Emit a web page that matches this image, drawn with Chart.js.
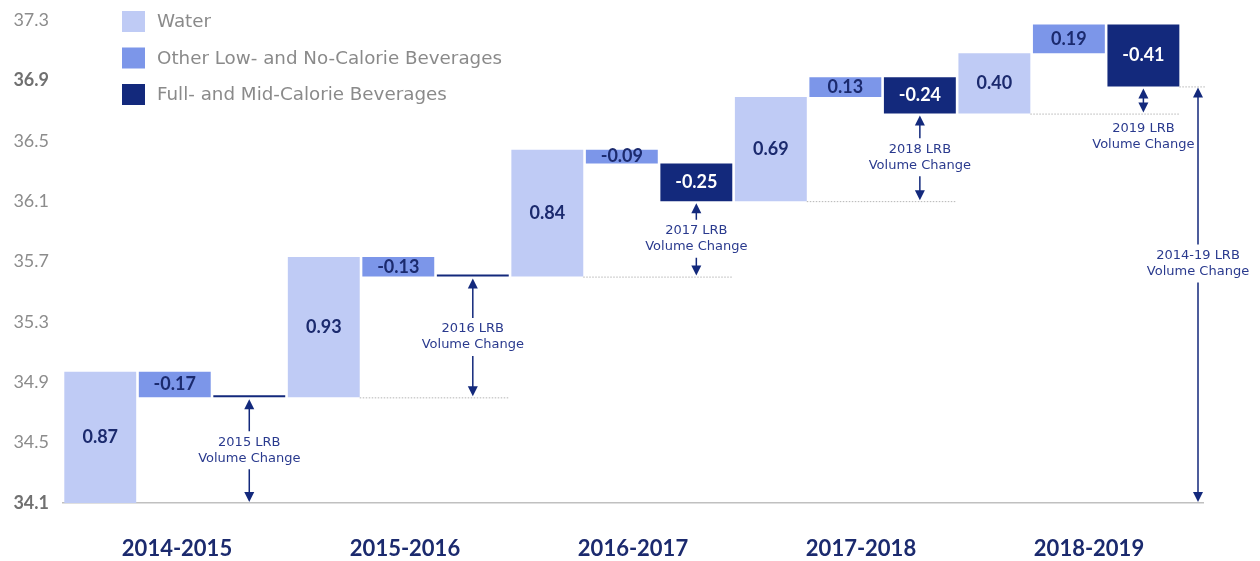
<!DOCTYPE html>
<html>
<head>
<meta charset="utf-8">
<script src="https://cdn.jsdelivr.net/npm/chart.js@4/dist/chart.umd.min.js"></script>
<style>
  html, body { margin: 0; padding: 0; background: #fff; }
  #wrap { width: 1260px; height: 561px; position: relative; }
</style>
</head>
<body>
<div id="wrap"><canvas id="waterfall"></canvas></div>
<script>
// Daten
const groups = ['2014-2015', '2015-2016', '2016-2017', '2017-2018', '2018-2019'];
const seriesNames = ['Water', 'Other Low- and No-Calorie Beverages', 'Full- and Mid-Calorie Beverages'];
const water = [0.87, 0.93, 0.84, 0.69, 0.40];
const otherLow = [-0.17, -0.13, -0.09, 0.13, 0.19];
const fullMid = [0, 0, -0.25, -0.24, -0.41];
const startValue = 34.1;
const yTicks = [34.1, 34.5, 34.9, 35.3, 35.7, 36.1, 36.5, 36.9, 37.3];
const boldTicks = [34.1, 36.9];
const noteYears = ['2015', '2016', '2017', '2018', '2019'];
const totalNote = '2014-19 LRB';

const colors = ['#bfcbf5', '#7c96e9', '#13297c'];
const NAVY = '#13297c';

// Wasserfall-Stufen aufbauen
const series = [water, otherLow, fullMid];
const floats = [[], [], []];
const groupStart = [], groupEnd = [];
let level = startValue;
groups.forEach((g, i) => {
  groupStart.push(level);
  series.forEach((s, k) => {
    floats[k].push({ x: i * 3 + k + 0.5, y: [level, level + s[i]] });
    level += s[i];
  });
  groupEnd.push(level);
});

const isBold = ctx => !!(ctx && ctx.tick && boldTicks.includes(ctx.tick.value));

function arrowHead(ctx, x, tip, dir) {
  ctx.beginPath();
  ctx.moveTo(x, tip);
  ctx.lineTo(x - 5, tip - dir * 10);
  ctx.lineTo(x + 5, tip - dir * 10);
  ctx.closePath();
  ctx.fill();
}

function vArrow(ctx, x, yTop, yBot, lines, textY) {
  ctx.save();
  ctx.strokeStyle = NAVY;
  ctx.fillStyle = NAVY;
  ctx.lineWidth = 1.5;
  const inside = textY > yTop && textY < yBot;
  ctx.beginPath();
  if (inside) {
    ctx.moveTo(x, yTop + 8); ctx.lineTo(x, textY - 19);
    ctx.moveTo(x, textY + 19); ctx.lineTo(x, yBot - 8);
  } else {
    ctx.moveTo(x, yTop + 8); ctx.lineTo(x, yBot - 8);
  }
  ctx.stroke();
  arrowHead(ctx, x, yTop, -1);
  arrowHead(ctx, x, yBot, 1);
  ctx.fillStyle = '#2a3a8e';
  ctx.font = '13px "DejaVu Sans"';
  ctx.textAlign = 'center';
  ctx.textBaseline = 'middle';
  ctx.fillText(lines[0], x, textY - 8);
  ctx.fillText(lines[1], x, textY + 8);
  ctx.restore();
}

function dotted(ctx, x1, x2, y) {
  ctx.save();
  ctx.strokeStyle = '#b5b5b5';
  ctx.lineWidth = 1;
  ctx.setLineDash([1.5, 1.5]);
  ctx.beginPath();
  ctx.moveTo(x1, y + 0.5);
  ctx.lineTo(x2, y + 0.5);
  ctx.stroke();
  ctx.restore();
}

const annotations = {
  id: 'annotations',
  afterDatasetsDraw(chart) {
    const { ctx, scales: { y }, chartArea } = chart;
    const metas = [0, 1, 2].map(k => chart.getDatasetMeta(k));

    // Werte in den Balken
    ctx.save();
    ctx.font = 'bold 18px Lato';
    ctx.textAlign = 'center';
    ctx.textBaseline = 'middle';
    metas.forEach((meta, k) => {
      meta.data.forEach((bar, i) => {
        const v = series[k][i];
        if (!v) return;
        ctx.fillStyle = k === 2 ? '#ffffff' : '#1b2a6e';
        ctx.fillText(v.toFixed(2), bar.x, (bar.y + bar.base) / 2);
      });
    });
    ctx.restore();

    // Hilfslinien und Pfeile je Gruppe
    groups.forEach((g, i) => {
      const wBar = metas[0].data[i];
      const fBar = metas[2].data[i];
      const ys = y.getPixelForValue(groupStart[i]);
      const ye = y.getPixelForValue(groupEnd[i]);
      if (i > 0) dotted(ctx, wBar.x + wBar.width / 2, fBar.x + fBar.width / 2, ys);
      const span = ys - ye;
      const textY = span > 60 ? (ys + ye) / 2 : ys + 23;
      vArrow(ctx, fBar.x, ye + 2, ys - 1, [noteYears[i] + ' LRB', 'Volume Change'], textY);
    });

    // Gesamtveränderung
    const last = metas[2].data[groups.length - 1];
    const yFinal = y.getPixelForValue(groupEnd[groups.length - 1]);
    dotted(ctx, last.x + last.width / 2, chartArea.right + 2, yFinal);
    const xT = chartArea.right - 5;
    const top = yFinal + 1, bot = chartArea.bottom - 1;
    vArrow(ctx, xT, top, bot, [totalNote, 'Volume Change'], top + 0.425 * (bot - top));
  },
  afterDraw(chart) {
    // Legende oben links
    const { ctx } = chart;
    ctx.save();
    ctx.font = '18.3px "DejaVu Sans"';
    ctx.textBaseline = 'middle';
    ctx.textAlign = 'left';
    seriesNames.forEach((name, k) => {
      const cy = 21.5 + k * 36.5;
      ctx.fillStyle = colors[k];
      ctx.fillRect(122, cy - 10.5, 23, 21);
      ctx.fillStyle = '#8a8a8a';
      ctx.fillText(name, 157, cy + 1);
    });
    ctx.restore();
  }
};

Chart.defaults.font.family = 'Lato';

new Chart(document.getElementById('waterfall'), {
  type: 'bar',
  data: {
    datasets: seriesNames.map((name, k) => ({
      label: name,
      data: floats[k],
      backgroundColor: colors[k],
      borderWidth: 0,
      barPercentage: 0.965,
      categoryPercentage: 1,
      grouped: false,
      minBarLength: k === 2 ? 2 : 0
    }))
  },
  options: {
    responsive: true,
    maintainAspectRatio: false,
    animation: false,
    layout: { padding: { left: 10, right: 57, top: 20, bottom: 0 } },
    plugins: {
      legend: { display: false },
      tooltip: { enabled: false }
    },
    scales: {
      x: {
        type: 'linear',
        min: 0,
        max: 15.3,
        offset: false,
        grid: { display: false },
        ticks: { display: false },
        border: { display: true, color: '#c0c0c0', width: 1.5 },
        afterFit: scale => { scale.height = 0; scale.paddingLeft = 0; scale.paddingRight = 0; }
      },
      x2: {
        type: 'category',
        labels: groups,
        position: 'bottom',
        offset: true,
        grid: { display: false, drawTicks: false },
        border: { display: false },
        afterFit: scale => { scale.height = 58; scale.paddingLeft = 0; scale.paddingRight = 0; },
        ticks: {
          padding: 33,
          color: '#1b2a6e',
          font: { family: 'Lato', size: 22, weight: 'bold' }
        }
      },
      y: {
        min: 34.1,
        max: 37.3,
        grid: { display: false, drawTicks: false },
        border: { display: false },
        afterBuildTicks: scale => { scale.ticks = yTicks.map(v => ({ value: v })); },
        afterFit: scale => { scale.width = 53; scale.paddingTop = 0; scale.paddingBottom = 0; },
        ticks: {
          padding: 14,
          callback: v => Number(v).toFixed(1),
          color: ctx => isBold(ctx) ? '#707070' : '#8c8c8c',
          font: ctx => ({
            family: 'Lato',
            size: 18,
            weight: isBold(ctx) ? 'bold' : 'normal'
          })
        }
      }
    }
  },
  plugins: [annotations]
});
</script>
</body>
</html>
